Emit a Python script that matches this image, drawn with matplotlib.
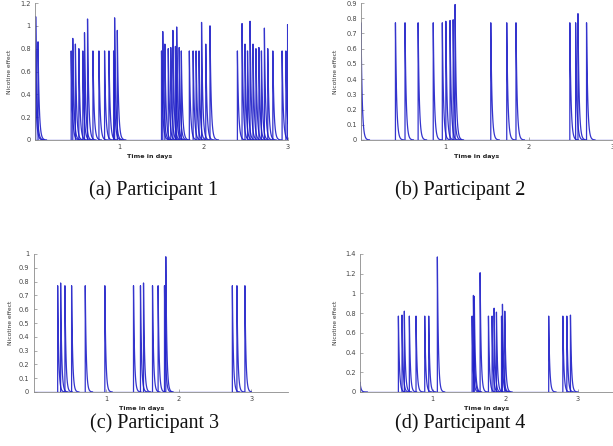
import numpy as np
import matplotlib
matplotlib.use('Agg')
import matplotlib.pyplot as plt

# dose times (days) and peak nicotine effect
p1_times = [0.0, 0.008, 0.036,
            0.429, 0.448, 0.479, 0.52, 0.567, 0.587, 0.623, 0.687, 0.758, 0.825,
            0.877, 0.932, 0.944, 0.976,
            1.50, 1.515, 1.54, 1.58, 1.61, 1.635, 1.665, 1.68, 1.71, 1.735,
            1.83, 1.875, 1.91, 1.945, 1.975, 2.025, 2.075,
            2.40, 2.455, 2.49, 2.52, 2.55, 2.585, 2.62, 2.655, 2.685, 2.72,
            2.76, 2.82, 2.93, 2.975, 2.995]
p1_peaks = [0.78, 1.08, 0.86,
            0.78, 0.89, 0.84, 0.80, 0.78, 0.94, 1.06, 0.78, 0.78, 0.78,
            0.78, 0.78, 1.07, 0.96,
            0.78, 0.95, 0.84, 0.80, 0.81, 0.96, 0.82, 0.99, 0.81, 0.78,
            0.78, 0.78, 0.78, 0.78, 1.03, 0.84, 1.00,
            0.78, 1.02, 0.84, 0.78, 1.04, 0.84, 0.80, 0.81, 0.78, 0.98,
            0.80, 0.78, 0.78, 0.78, 1.01]

p2_times = [0.0, 0.41, 0.524, 0.68, 0.86, 0.968, 1.01, 1.06, 1.097, 1.12,
            1.545, 1.735, 1.845, 2.486, 2.555, 2.583, 2.685]
p2_peaks = [0.77, 0.77, 0.77, 0.77, 0.77, 0.77, 0.78, 0.785, 0.79, 0.89,
            0.77, 0.77, 0.77, 0.77, 0.77, 0.83, 0.77]

p3_times = [0.333, 0.374, 0.433, 0.525, 0.713, 0.983, 1.378, 1.474, 1.516,
            1.64, 1.717, 1.805, 1.823, 2.74, 2.803, 2.913]
p3_peaks = [0.77, 0.79, 0.77, 0.77, 0.77, 0.77, 0.77, 0.77, 0.79,
            0.77, 0.77, 0.77, 0.98, 0.77, 0.77, 0.77]

p4_times = [0.0, 0.529, 0.579, 0.611, 0.68, 0.772, 0.892, 0.947, 1.066,
            1.545, 1.563, 1.575, 1.655, 1.77, 1.82, 1.848, 1.88, 1.95, 1.963,
            1.995, 2.6, 2.795, 2.85, 2.9]
p4_peaks = [0.1, 0.77, 0.78, 0.82, 0.77, 0.77, 0.77, 0.77, 1.37,
            0.77, 0.98, 0.97, 1.21, 0.77, 0.77, 0.85, 0.81, 0.77, 0.89,
            0.82, 0.77, 0.77, 0.77, 0.78]

captions = ['(a) Participant 1', '(b) Participant 2',
            '(c) Participant 3', '(d) Participant 4']

LINE = '#1e1ec8'
AXC = '#8a8a8a'
TAU = 0.014  # decay constant used to draw each spike


def draw_panel(ax, times, peaks, xmax, ymax, ystep, xlab_x, ylab_x):
    ax.plot([0, 3.0], [0, 0], color=LINE, lw=0.9)
    for t, p in zip(times, peaks):
        tt = t + np.linspace(0, 0.1, 60)
        yy = p * np.exp(-(tt - t) / TAU)
        tt = np.concatenate([[t], tt])
        yy = np.concatenate([[0], yy])
        keep = tt <= 3.0
        ax.plot(tt[keep], yy[keep], color=LINE, lw=0.9, alpha=0.9)
    ax.set_xlim(0, xmax)
    ax.set_ylim(0, ymax)
    ax.set_xticks([1, 2, 3])
    yt = np.round(np.arange(0, ymax + 1e-9, ystep), 2)
    ax.set_yticks(yt)
    ax.set_yticklabels(['%g' % v for v in yt])
    for s in ['top', 'right']:
        ax.spines[s].set_visible(False)
    for s in ['left', 'bottom']:
        ax.spines[s].set_color(AXC)
        ax.spines[s].set_linewidth(0.6)
    ax.tick_params(direction='in', length=2, width=0.5, color=AXC,
                   labelsize=4.8, labelcolor='#444444', pad=3)
    ax.set_xlabel('Time in days', fontsize=4.6, fontweight='bold', color='#222222')
    ax.xaxis.set_label_coords(xlab_x, -0.1)
    ax.set_ylabel('Nicotine effect', fontsize=4.3, color='#333333')
    ax.yaxis.set_label_coords(ylab_x, 0.5)


fig = plt.figure(figsize=(6.13, 4.46), dpi=100)

ax1 = fig.add_axes([35 / 613, 1 - 140 / 446, 253 / 613, 137 / 446])
draw_panel(ax1, p1_times, p1_peaks, 3.0, 1.2, 0.2, 0.455, -0.09)

ax2 = fig.add_axes([361 / 613, 1 - 140 / 446, 252 / 613, 137 / 446])
draw_panel(ax2, p2_times, p2_peaks, 3.0, 0.9, 0.1, 0.46, -0.091)

ax3 = fig.add_axes([33.5 / 613, 1 - 392 / 446, 254 / 613, 138 / 446])
draw_panel(ax3, p3_times, p3_peaks, 3.5, 1.0, 0.1, 0.425, -0.082)

ax4 = fig.add_axes([360 / 613, 1 - 392 / 446, 254 / 613, 138 / 446])
draw_panel(ax4, p4_times, p4_peaks, 3.5, 1.4, 0.2, 0.5, -0.086)

cap_pos = [(154, 190), (460, 190), (154, 423), (460, 423)]
for (cx, cy), txt in zip(cap_pos, captions):
    fig.text(cx / 613, 1 - cy / 446, txt, fontsize=14.5, family='Liberation Serif',
             ha='center', va='center', color='#111111')

fig.savefig('out.png', dpi=100, facecolor='white')
